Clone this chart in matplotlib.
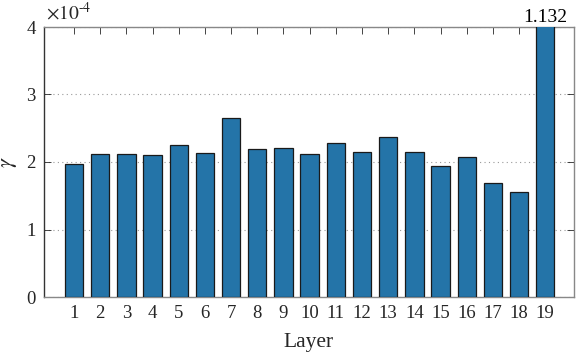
import numpy as np
import matplotlib.pyplot as plt

plt.rcParams['font.family'] = ['Liberation Serif', 'DejaVu Serif']
plt.rcParams['mathtext.fontset'] = 'stix'

layers = list(range(1, 20))
gamma = [1.97e-4, 2.12e-4, 2.12e-4, 2.10e-4, 2.25e-4, 2.13e-4, 2.65e-4, 2.19e-4,
         2.21e-4, 2.12e-4, 2.28e-4, 2.15e-4, 2.37e-4, 2.15e-4, 1.94e-4, 2.07e-4,
         1.69e-4, 1.56e-4, 1.132]
ymax = 4e-4

fig = plt.figure(figsize=(5.81, 3.57), dpi=100)
ax = fig.add_axes([44 / 581, 60 / 357, 530 / 581, 270 / 357])

ax.bar(layers, gamma, width=0.7, color='#2474a8', edgecolor='#1a1a1a',
       linewidth=0.9, zorder=3)

# clipped bar gets its value written above the box
for x, v in zip(layers, gamma):
    if v > ymax:
        ax.text(x, ymax * 1.005, f'{v:.3f}', ha='center', va='bottom', fontsize=14)

ax.set_xlim(-0.15, 20.1)
ax.set_ylim(0, ymax)
ax.set_xticks(layers)
ax.set_yticks(np.arange(0, 5) * 1e-4)
ax.set_yticklabels(['0', '1', '2', '3', '4'])
ax.text(0.003, 1.012, r'$\times10^{\text{-}4}$', transform=ax.transAxes, ha='left',
        va='bottom', fontsize=14, color='#262626')

ax.yaxis.grid(True, linestyle=(0, (1, 3)), color='#999999', linewidth=0.8, zorder=0)
ax.tick_params(direction='in', top=True, right=True, labelsize=13.5,
               colors='#262626', length=5, width=0.6, pad=6)
for s in ax.spines.values():
    s.set_color('#888888')
    s.set_linewidth(1.0)
ax.spines['left'].set_color('#333333')

ax.set_xlabel('Layer', fontsize=15.5, color='#262626', labelpad=8)
ax.set_ylabel(r'$\gamma$', fontsize=16, color='#262626', labelpad=5)

fig.savefig('out.png', dpi=100)
